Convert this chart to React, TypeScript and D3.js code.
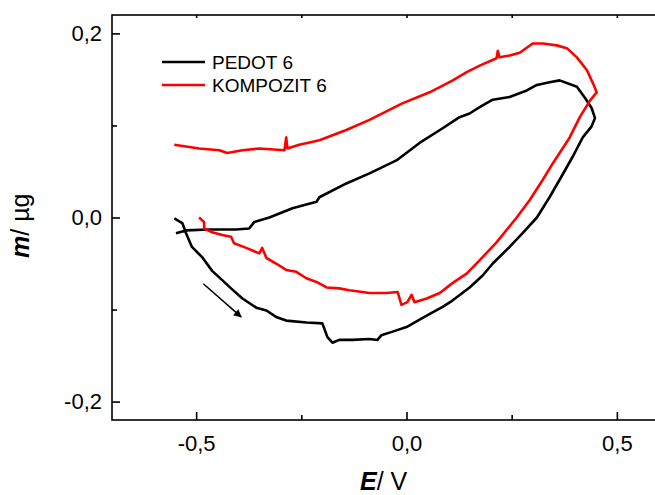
import React, { useRef, useEffect } from 'react';
import * as d3 from 'd3';

// PEDOT 6 loop (E / V, m / µg)
const pedotE = [
  -0.552, -0.533, -0.524, -0.51, -0.486, -0.462, -0.438, -0.417, -0.39, -0.357,
  -0.333, -0.31, -0.286, -0.238, -0.2, -0.188, -0.176, -0.16, -0.129, -0.088,
  -0.069, -0.06, -0.033, 0.0, 0.031, 0.062, 0.086, 0.11, 0.15, 0.181,
  0.205, 0.245, 0.276, 0.31, 0.34, 0.364, 0.395, 0.419, 0.44, 0.448,
  0.44, 0.424, 0.405, 0.364, 0.34, 0.31, 0.286, 0.245, 0.205, 0.174,
  0.15, 0.126, 0.086, 0.031, -0.024, -0.088, -0.143, -0.207, -0.214, -0.271,
  -0.326, -0.362, -0.374, -0.405, -0.469, -0.524, -0.548,
];
const pedotM = [
  -0.001, -0.006, -0.017, -0.032, -0.043, -0.058, -0.068, -0.077, -0.088, -0.098,
  -0.101, -0.108, -0.112, -0.114, -0.115, -0.13, -0.136, -0.133, -0.133, -0.132,
  -0.133, -0.128, -0.124, -0.119, -0.111, -0.103, -0.097, -0.09, -0.076, -0.063,
  -0.05, -0.032, -0.017, 0.0, 0.022, 0.041, 0.066, 0.087, 0.099, 0.108,
  0.119, 0.13, 0.142, 0.149, 0.147, 0.144, 0.138, 0.131, 0.128, 0.12,
  0.113, 0.109, 0.097, 0.081, 0.062, 0.048, 0.037, 0.022, 0.017, 0.01,
  0.0, -0.005, -0.012, -0.013, -0.013, -0.014, -0.017,
];

// KOMPOZIT 6 loop
const kompozitE = [
  -0.493, -0.481, -0.481, -0.462, -0.438, -0.417, -0.41, -0.381, -0.35, -0.343,
  -0.333, -0.31, -0.286, -0.262, -0.238, -0.214, -0.19, -0.16, -0.136, -0.088,
  -0.048, -0.021, -0.012, 0.002, 0.012, 0.019, 0.048, 0.079, 0.11, 0.143,
  0.181, 0.214, 0.262, 0.293, 0.324, 0.348, 0.388, 0.412, 0.436, 0.452,
  0.443, 0.429, 0.405, 0.381, 0.357, 0.324, 0.3, 0.269, 0.245, 0.221,
  0.217, 0.214, 0.174, 0.143, 0.11, 0.055, -0.01, -0.088, -0.143, -0.207,
  -0.255, -0.283, -0.286, -0.29, -0.35, -0.39, -0.426, -0.445, -0.493, -0.552,
];
const kompozitM = [
  0.0, -0.005, -0.012, -0.016, -0.019, -0.021, -0.028, -0.033, -0.039, -0.033,
  -0.044, -0.05, -0.057, -0.059, -0.066, -0.07, -0.076, -0.077, -0.079, -0.082,
  -0.082, -0.081, -0.095, -0.092, -0.084, -0.092, -0.088, -0.082, -0.071, -0.061,
  -0.043, -0.027, 0.0, 0.019, 0.041, 0.059, 0.087, 0.109, 0.127, 0.136,
  0.146, 0.16, 0.174, 0.184, 0.187, 0.189, 0.189, 0.179, 0.176, 0.174,
  0.181, 0.173, 0.165, 0.158, 0.149, 0.136, 0.124, 0.106, 0.095, 0.084,
  0.079, 0.075, 0.087, 0.073, 0.075, 0.073, 0.07, 0.073, 0.075, 0.079,
];

const seriesNames = ['PEDOT 6', 'KOMPOZIT 6'];
const seriesColors = ['#000000', '#ff0000'];

const xMajorTicks = [-0.5, 0, 0.5];
const xMinorTicks = [-0.25, 0.25];
const yMajorTicks = [-0.2, 0, 0.2];
const yMinorTicks = [-0.1, 0.1];

// scan direction arrow
const arrowE = [-0.483, -0.393];
const arrowM = [-0.072, -0.108];

const FONT = '"Liberation Sans", Arial, sans-serif';

const App: React.FC = () => {
  const svgRef = useRef<SVGSVGElement>(null);

  useEffect(() => {
    if (!svgRef.current) return;
    const svg = d3.select(svgRef.current);
    svg.selectAll('*').remove();

    const left = 112, right = 701, top = 15, bottom = 420;

    const x = d3.scaleLinear().domain([-0.7, 0.7]).range([left, right]);
    const y = d3.scaleLinear().domain([-0.22, 0.22]).range([bottom, top]);
    const fmt = (d: d3.NumberValue) => (+d).toFixed(1).replace('.', ',');

    // arrow marker
    svg.append('defs').append('marker')
      .attr('id', 'arrowhead')
      .attr('viewBox', '0 0 10 10')
      .attr('refX', 9)
      .attr('refY', 5)
      .attr('markerWidth', 10)
      .attr('markerHeight', 8)
      .attr('markerUnits', 'userSpaceOnUse')
      .attr('orient', 'auto')
      .append('path')
      .attr('d', 'M0,0 L10,5 L0,10 Z')
      .attr('fill', '#000');

    // frame
    svg.append('rect')
      .attr('x', left).attr('y', top)
      .attr('width', right - left).attr('height', bottom - top)
      .attr('fill', 'none').attr('stroke', '#000').attr('stroke-width', 1.6);

    const styleAxis = (g: d3.Selection<SVGGElement, unknown, null, undefined>, size: number) => {
      g.select('.domain').remove();
      g.selectAll('line').attr('stroke', '#000').attr('stroke-width', 1.6);
      g.attr('font-family', FONT).attr('font-size', size);
      g.selectAll('text').attr('fill', '#000');
    };

    // bottom axis
    styleAxis(svg.append('g')
      .attr('transform', `translate(0,${bottom})`)
      .call(d3.axisBottom(x).tickValues(xMajorTicks).tickSize(-8).tickSizeOuter(0).tickPadding(15).tickFormat(fmt)), 22);
    styleAxis(svg.append('g')
      .attr('transform', `translate(0,${bottom})`)
      .call(d3.axisBottom(x).tickValues(xMinorTicks).tickSize(-5).tickSizeOuter(0).tickFormat(() => '')), 22);

    // top axis
    styleAxis(svg.append('g')
      .attr('transform', `translate(0,${top})`)
      .call(d3.axisTop(x).tickValues([...xMajorTicks, ...xMinorTicks]).tickSize(-3).tickSizeOuter(0).tickFormat(() => '')), 22);

    // left axis
    styleAxis(svg.append('g')
      .attr('transform', `translate(${left},0)`)
      .call(d3.axisLeft(y).tickValues(yMajorTicks).tickSize(-8).tickSizeOuter(0).tickPadding(10).tickFormat(fmt)), 22);
    styleAxis(svg.append('g')
      .attr('transform', `translate(${left},0)`)
      .call(d3.axisLeft(y).tickValues(yMinorTicks).tickSize(-5).tickSizeOuter(0).tickFormat(() => '')), 22);

    // curves
    const series = [
      { e: pedotE, m: pedotM },
      { e: kompozitE, m: kompozitM },
    ];
    series.forEach((s, k) => {
      const line = d3.line<number>()
        .x(i => x(s.e[i]))
        .y(i => y(s.m[i]));
      svg.append('path')
        .attr('d', line(d3.range(s.e.length)))
        .attr('fill', 'none')
        .attr('stroke', seriesColors[k])
        .attr('stroke-width', 2.6)
        .attr('stroke-linejoin', 'round');
    });

    // arrow
    svg.append('line')
      .attr('x1', x(arrowE[0])).attr('y1', y(arrowM[0]))
      .attr('x2', x(arrowE[1])).attr('y2', y(arrowM[1]))
      .attr('stroke', '#000').attr('stroke-width', 1.6)
      .attr('marker-end', 'url(#arrowhead)');

    // legend
    const legend = svg.append('g').attr('font-family', FONT).attr('font-size', 19);
    seriesNames.forEach((name, k) => {
      const ly = 62 + k * 23;
      legend.append('line')
        .attr('x1', 162).attr('x2', 205)
        .attr('y1', ly).attr('y2', ly)
        .attr('stroke', seriesColors[k]).attr('stroke-width', 2.6);
      legend.append('text')
        .attr('x', 212).attr('y', ly + 7)
        .attr('fill', '#000')
        .text(name);
    });

    // axis titles
    const xt = svg.append('text')
      .attr('x', 360).attr('y', 490)
      .attr('font-family', FONT).attr('font-size', 25);
    xt.append('tspan').attr('font-weight', 'bold').attr('font-style', 'italic').text('E');
    xt.append('tspan').text('/ V');

    const yt = svg.append('text')
      .attr('transform', 'translate(29,258) rotate(-90)')
      .attr('font-family', FONT).attr('font-size', 25);
    yt.append('tspan').attr('font-weight', 'bold').attr('font-style', 'italic').text('m');
    yt.append('tspan').text('/ µg');
  }, []);

  return (
    <div style={{ position: 'absolute', left: 0, top: 0 }}>
      <svg ref={svgRef} width={655} height={495} style={{ display: 'block', background: '#fff' }} />
    </div>
  );
};

export default App;
